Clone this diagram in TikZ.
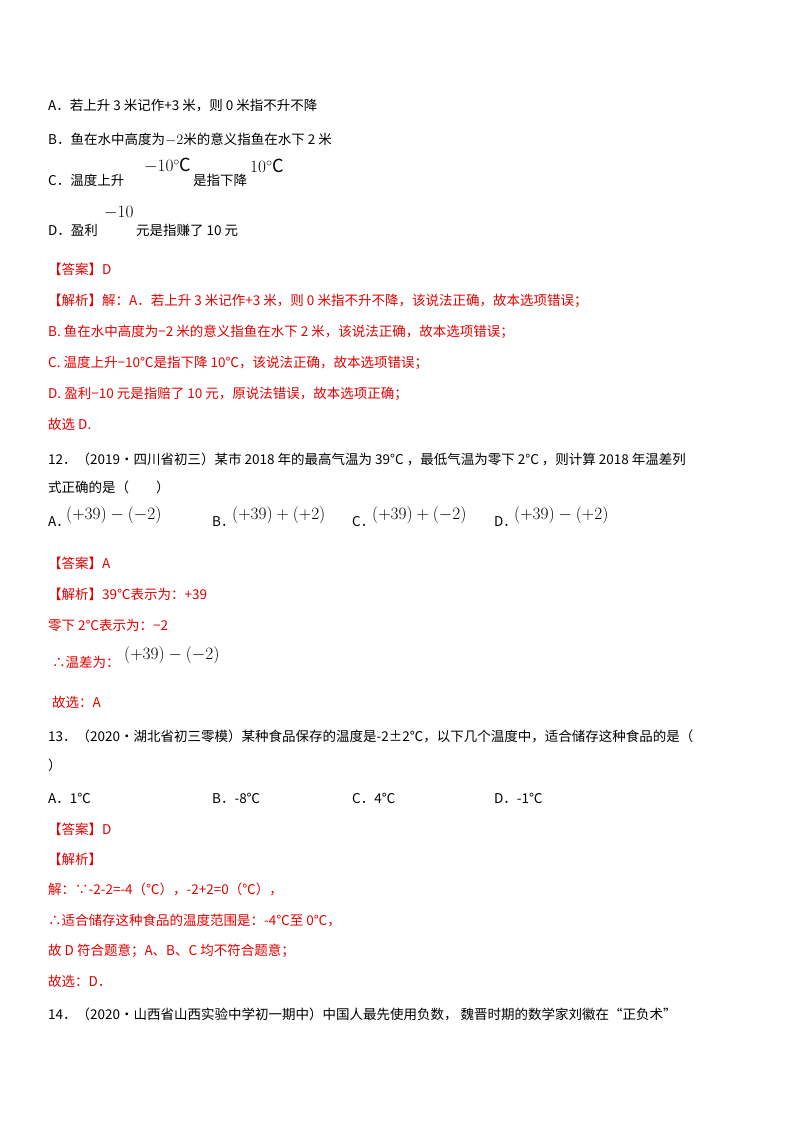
\documentclass[tikz,border=0pt]{standalone}
\usepackage{amsmath}
\usepackage{fontspec}
\setmainfont{Noto Sans CJK SC}
\usepackage{tikz}
\definecolor{ansred}{RGB}{230,0,0}
\begin{document}
\begin{tikzpicture}[x=1pt, y=-1pt]
\tikzset{every node/.style={anchor=west, inner sep=0pt, font=\fontsize{13.5}{16}\selectfont}}
\tikzset{ans/.style={text=ansred}}
\tikzset{mth/.style={font=\fontsize{18}{20}\selectfont}}
\useasboundingbox (0,0) rectangle (800,1132);
% question 11 options
\node (qa) at (48,106) {A．若上升 3 米记作+3 米，则 0 米指不升不降};
\node (qb) at (48,139) {B．鱼在水中高度为$-2$米的意义指鱼在水下 2 米};
\node (qc) at (48,180) {C．温度上升};
\node[mth] (qcm) at (144,166) {$-10^{\circ}\mathrm{C}$};
\node (qc2) at (193,180) {是指下降};
\node[mth] (qcn) at (250,166) {$10^{\circ}\mathrm{C}$};
\node (qd) at (48,230) {D．盈利};
\node[mth] (qdm) at (104,213) {$-10$};
\node (qd2) at (136,230) {元是指赚了 10 元};
% answer 11
\node[ans] (a11) at (48,269) {【答案】D};
\node[ans] (j11) at (48,301) {【解析】解：A．若上升 3 米记作+3 米，则 0 米指不升不降，该说法正确，故本选项错误；};
\node[ans] (j11b) at (48,332) {B. 鱼在水中高度为−2 米的意义指鱼在水下 2 米，该说法正确，故本选项错误；};
\node[ans] (j11c) at (48,363) {C. 温度上升−10℃是指下降 10℃，该说法正确，故本选项错误；};
\node[ans] (j11d) at (48,394) {D. 盈利−10 元是指赔了 10 元，原说法错误，故本选项正确；};
\node[ans] (g11) at (48,424) {故选 D.};
% question 12
\node (q12) at (48,459) {12．（2019·四川省初三）某市 2018 年的最高气温为 39°C ，最低气温为零下 2°C ，则计算 2018 年温差列};
\node (q12b) at (48,487) {式正确的是（\qquad ）};
\node (o12a) at (48,522) {A．};
\node[mth] (o12am) at (66,515) {$\left(+39\right)-\left(-2\right)$};
\node (o12b) at (212,522) {B．};
\node[mth] (o12bm) at (232,515) {$\left(+39\right)+\left(+2\right)$};
\node (o12c) at (352,522) {C．};
\node[mth] (o12cm) at (372,515) {$\left(+39\right)+\left(-2\right)$};
\node (o12d) at (494,522) {D．};
\node[mth] (o12dm) at (514,515) {$\left(+39\right)-\left(+2\right)$};
\node[ans] (a12) at (48,563) {【答案】A};
\node[ans] (j12) at (48,594) {【解析】39℃表示为：+39};
\node[ans] (j12b) at (48,625) {零下 2℃表示为：−2};
\node[ans] (j12c) at (52,662) {∴温差为：};
\node[mth] (j12m) at (124,655) {$\left(+39\right)-\left(-2\right)$};
\node[ans] (g12) at (52,702) {故选：A};
% question 13
\node (q13) at (48,736) {13．（2020·湖北省初三零模）某种食品保存的温度是-2±2℃，以下几个温度中，适合储存这种食品的是（};
\node (q13b) at (48,765) {）};
\node (o13a) at (48,798) {A．1℃};
\node (o13b) at (212,798) {B．-8℃};
\node (o13c) at (352,798) {C．4℃};
\node (o13d) at (494,798) {D．-1℃};
\node[ans] (a13) at (48,829) {【答案】D};
\node[ans] (j13) at (48,859) {【解析】};
\node[ans] (j13b) at (48,889) {解：∵-2-2=-4（℃），-2+2=0（℃），};
\node[ans] (j13c) at (48,920) {∴适合储存这种食品的温度范围是：-4℃至 0℃，};
\node[ans] (j13d) at (48,951) {故 D 符合题意；A、B、C 均不符合题意；};
\node[ans] (g13) at (48,981) {故选：D．};
% question 14
\node (q14) at (48,1014) {14．（2020·山西省山西实验中学初一期中）中国人最先使用负数， 魏晋时期的数学家刘徽在“正负术”};
\end{tikzpicture}
\end{document}
